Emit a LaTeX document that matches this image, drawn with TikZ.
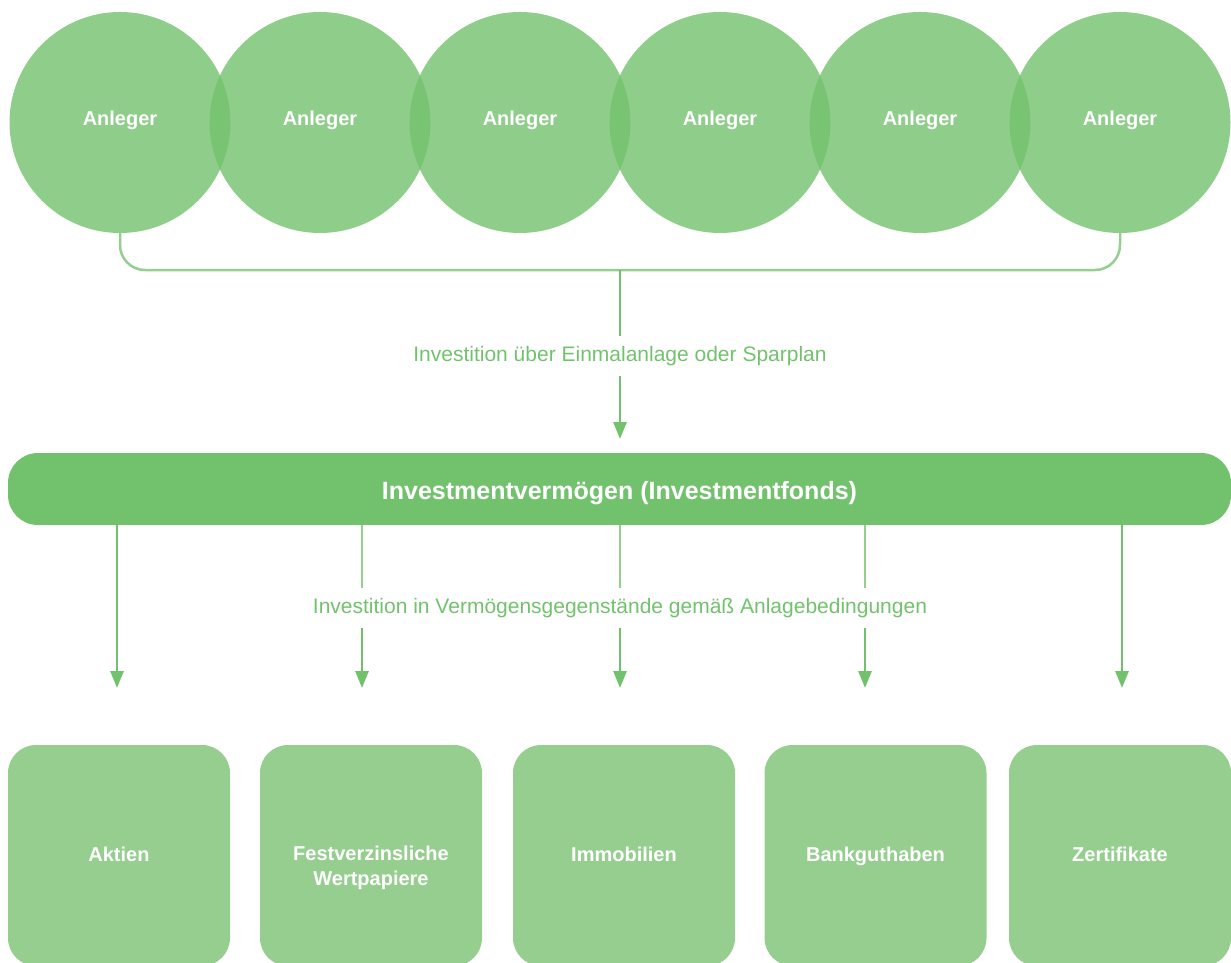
\documentclass[tikz,border=0pt]{standalone}
\usepackage{fontspec}
\setmainfont{Liberation Sans}
\usetikzlibrary{arrows.meta}
\definecolor{maingreen}{RGB}{114,194,109}
\definecolor{boxgreen}{RGB}{149,206,143}
\definecolor{lightline}{RGB}{148,207,144}
\tikzset{
  anleger/.style={circle, fill=maingreen, fill opacity=0.8, text opacity=1, text=white,
    minimum size=221pt, inner sep=0pt, text height=10pt, text depth=5pt,
    font=\bfseries\fontsize{20}{23}\selectfont},
  assetbox/.style={rectangle, rounded corners=28pt, fill=boxgreen, text=white,
    minimum width=222pt, minimum height=221pt, inner sep=0pt, align=center,
    text height=14pt, text depth=2pt,
    font=\bfseries\fontsize{20}{25}\selectfont},
  twolinebox/.style={assetbox, text height=60pt, text depth=0pt},
  fundbar/.style={rectangle, rounded corners=30pt, fill=maingreen, text=white,
    minimum width=1223pt, minimum height=72pt, inner sep=0pt,
    text height=20pt, text depth=0pt,
    font=\bfseries\fontsize{25}{30}\selectfont},
  flowlabel/.style={text=maingreen, minimum height=40pt, inner sep=0pt,
    font=\fontsize{21}{25}\selectfont},
  bracketline/.style={draw=lightline, line width=2.5pt, rounded corners=25pt},
  stubline/.style={draw=lightline, line width=2.2pt},
  arrowline/.style={draw=maingreen, line width=2.8pt, -{Triangle[width=13pt,length=17pt]}},
  topline/.style={draw=maingreen, line width=2.2pt}
}
\begin{document}
\begin{tikzpicture}[x=1pt,y=-1pt]
\useasboundingbox (0,0) rectangle (1231,963);
\clip (0,0) rectangle (1231,963);

% investors
\foreach \i/\x in {1/120,2/320,3/520,4/720,5/920,6/1120}{
  \node[anleger] (a\i) at (\x,122.5) {Anleger};
}

% bracket
\coordinate (hb) at (620,270);
\draw[bracketline] (a1.south) -- (a1.south |- hb) -- (a6.south |- hb) -- (a6.south);

% first label and arrow
\node[flowlabel] (lbl1) at (620,356) {Investition über Einmalanlage oder Sparplan};
\node[fundbar] (bar) at (619.5,489) {Investmentvermögen (Investmentfonds)};
\draw[topline] (hb) -- (lbl1.north);
\coordinate (tip0) at (620,439);
\draw[arrowline] (lbl1.south) -- (tip0);

% second label
\node[flowlabel] (lbl2) at (620,608) {Investition in Vermögensgegenstände gemäß Anlagebedingungen};

% lower arrows
\foreach \i/\x in {1/117,2/362,3/620,4/865,5/1122}{
  \coordinate (s\i) at (\x,525);
  \coordinate (e\i) at (\x,688);
}
\draw[arrowline] (s1) -- (e1);
\draw[arrowline] (s5) -- (e5);
\foreach \i in {2,3,4}{
  \draw[stubline] (s\i) -- (s\i |- lbl2.north);
  \draw[arrowline] (s\i |- lbl2.south) -- (e\i);
}

% asset boxes
\node[assetbox] (b1) at (119,855.5) {Aktien};
\node[twolinebox] (b2) at (371,855.5) {Festverzinsliche\\Wertpapiere};
\node[assetbox] (b3) at (624,855.5) {Immobilien};
\node[assetbox] (b4) at (875.5,855.5) {Bankguthaben};
\node[assetbox] (b5) at (1120,855.5) {Zertifikate};
\end{tikzpicture}
\end{document}
